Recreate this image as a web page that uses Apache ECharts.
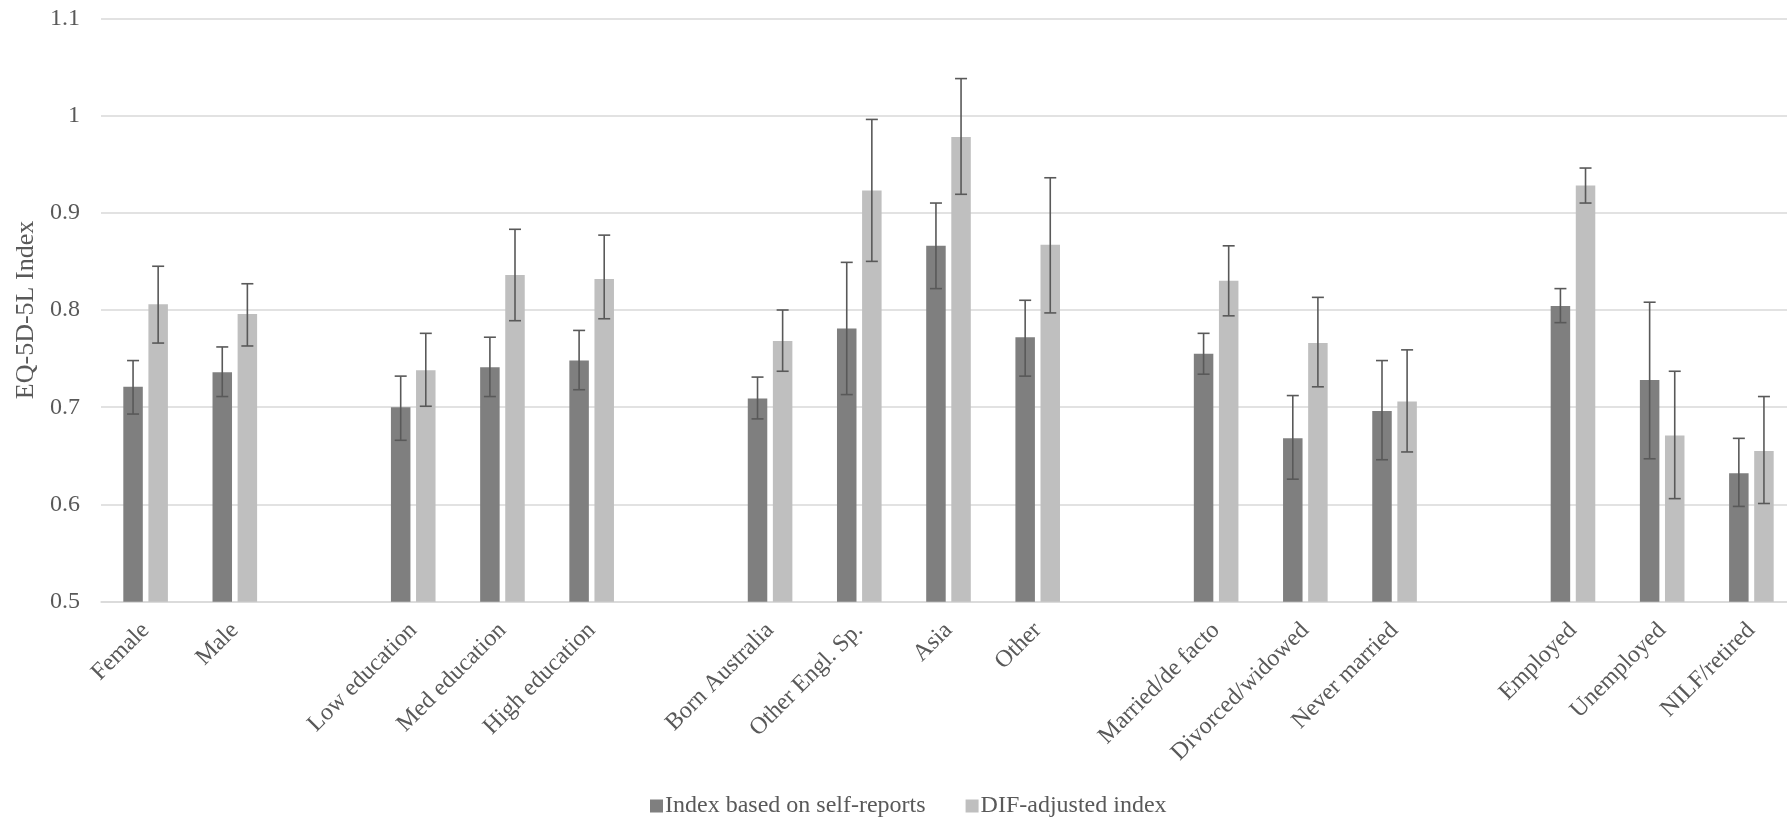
<!DOCTYPE html>
<html>
<head>
<meta charset="utf-8">
<script src="https://cdn.jsdelivr.net/npm/echarts@6/dist/echarts.min.js"></script>
<style>
html,body{margin:0;padding:0;background:#fff;overflow:hidden;}
#chart{width:1800px;height:818px;}
</style>
</head>
<body>
<div id="chart"></div>
<script>
const categories = ['Female','Male','','Low education','Med education','High education','','Born Australia','Other Engl. Sp.','Asia','Other','','Married/de facto','Divorced/widowed','Never married','','Employed','Unemployed','NILF/retired'];
const seriesNames = ['Index based on self-reports','DIF-adjusted index'];
const selfReport = [0.721,0.736,null,0.700,0.741,0.748,null,0.709,0.781,0.866,0.772,null,0.755,0.668,0.696,null,0.804,0.728,0.632];
const selfLow    = [0.693,0.711,null,0.666,0.711,0.718,null,0.688,0.713,0.822,0.732,null,0.734,0.626,0.646,null,0.787,0.647,0.598];
const selfHigh   = [0.748,0.762,null,0.732,0.772,0.779,null,0.731,0.849,0.910,0.810,null,0.776,0.712,0.748,null,0.822,0.808,0.668];
const difAdj     = [0.806,0.796,null,0.738,0.836,0.832,null,0.768,0.923,0.978,0.867,null,0.830,0.766,0.706,null,0.928,0.671,0.655];
const difLow     = [0.766,0.763,null,0.701,0.789,0.791,null,0.737,0.850,0.919,0.797,null,0.794,0.721,0.654,null,0.910,0.606,0.601];
const difHigh    = [0.845,0.827,null,0.776,0.883,0.877,null,0.800,0.996,1.038,0.936,null,0.866,0.813,0.759,null,0.946,0.737,0.711];
const yTicks = {min:0.5, max:1.1, interval:0.1};

const FONT = 'Liberation Serif';
const TXT = '#595959';
const BAR_W = 19.5;
const GAP = 5.6;
const colors = ['#7f7f7f','#bfbfbf'];

function toBar(arr){ return arr.map(v => v == null ? '-' : v); }
function toErr(lo, hi){
  const out = [];
  lo.forEach((v,i) => { if (v != null) out.push([i, v, hi[i]]); });
  return out;
}
function errRender(offset){
  return function(params, api){
    const i = api.value(0);
    const pLo = api.coord([i, api.value(1)]);
    const pHi = api.coord([i, api.value(2)]);
    const x = pLo[0] + offset;
    const cap = 6;
    const style = {stroke:'#595959', lineWidth:1.6};
    return {type:'group', children:[
      {type:'line', shape:{x1:x, y1:pLo[1], x2:x, y2:pHi[1]}, style},
      {type:'line', shape:{x1:x-cap, y1:pLo[1], x2:x+cap, y2:pLo[1]}, style},
      {type:'line', shape:{x1:x-cap, y1:pHi[1], x2:x+cap, y2:pHi[1]}, style}
    ]};
  };
}
const off = (BAR_W + GAP) / 2;

const chart = echarts.init(document.getElementById('chart'));
chart.setOption({
  animation:false,
  backgroundColor:'#fff',
  textStyle:{fontFamily:FONT, color:TXT},
  grid:{left:101, top:18.3, width:1695, height:583.4, containLabel:false},
  legend:{
    left:645, top:789,
    itemWidth:13, itemHeight:13, itemGap:40,
    icon:'rect',
    textStyle:{fontFamily:FONT, fontSize:24, color:TXT, padding:[0,0,0,-3]},
    data:seriesNames
  },
  xAxis:{
    type:'category', data:categories,
    axisLine:{show:true, lineStyle:{color:'#d9d9d9', width:1.5}},
    axisTick:{show:false},
    axisLabel:{interval:0, rotate:45, margin:25, fontFamily:FONT, fontSize:24, color:TXT}
  },
  yAxis:{
    type:'value', min:yTicks.min, max:yTicks.max, interval:yTicks.interval,
    name:'EQ-5D-5L Index', nameLocation:'middle', nameGap:53, nameRotate:90,
    nameTextStyle:{fontFamily:FONT, fontSize:26, color:TXT},
    axisLine:{show:false}, axisTick:{show:false},
    axisLabel:{margin:21, fontFamily:FONT, fontSize:24, color:TXT, formatter:v => String(+v.toFixed(1))},
    splitLine:{lineStyle:{color:'#d9d9d9', width:1.5}}
  },
  series:[
    {name:seriesNames[0], type:'bar', data:toBar(selfReport), barWidth:BAR_W, barGap:(GAP/BAR_W*100)+'%', itemStyle:{color:colors[0]}},
    {name:seriesNames[1], type:'bar', data:toBar(difAdj), barWidth:BAR_W, barGap:(GAP/BAR_W*100)+'%', itemStyle:{color:colors[1]}},
    {type:'custom', data:toErr(selfLow, selfHigh), renderItem:errRender(-off), encode:{x:0, y:[1,2]}, z:5, silent:true},
    {type:'custom', data:toErr(difLow, difHigh), renderItem:errRender(off), encode:{x:0, y:[1,2]}, z:5, silent:true}
  ]
});
</script>
</body>
</html>
